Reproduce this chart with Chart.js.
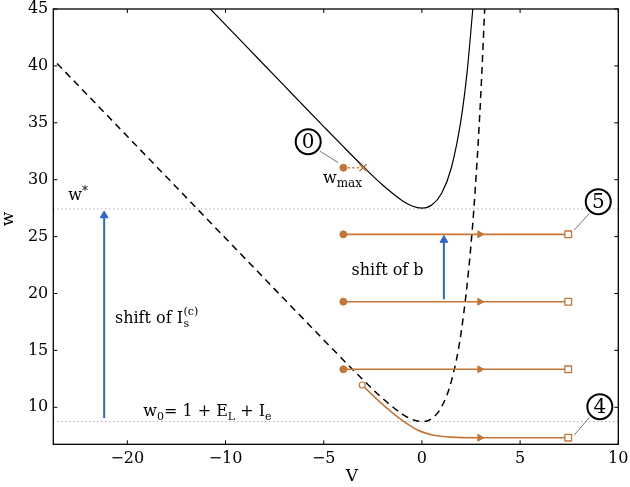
<!DOCTYPE html>
<html><head><meta charset="utf-8">
<script src="https://cdn.jsdelivr.net/npm/chart.js@4.4.1/dist/chart.umd.min.js"></script>
<style>html,body{margin:0;padding:0;background:#fff;}canvas{display:block;}</style>
</head><body>
<canvas id="c" width="630" height="487"></canvas>
<script>
// ---- axis ticks ----
const xTickValues = [-15, -10, -5, 0, 5, 10];
const xTickLabels = ['−20', '−10', '−5', '0', '5', '10'];
const yTickValues = [10, 15, 20, 25, 30, 35, 40, 45];

// ---- solid curve ----
const sepV = [-11, -9, -7, -5, -4, -3, -2, -1, -0.5, 0, 0.5, 1, 1.5, 2, 2.3, 2.6];
const sepW = [45.4, 41.82, 38.24, 34.67, 32.9, 31.17, 29.53, 28.16, 27.69, 27.5, 27.77, 28.79, 31.05, 35.36, 39.45, 45.17];

// ---- dashed curve ----
const nullV = [-19, -15, -10, -7, -5, -3, -2, -1, -0.5, 0, 0.5, 1, 1.5, 2, 2.5, 2.8, 3.0, 3.2];
const nullW = [40.97, 33.81, 24.86, 19.49, 15.92, 12.42, 10.78, 9.41, 8.94, 8.75, 9.02, 10.04, 12.3, 16.61, 24.29, 31.39, 37.54, 45.15];

// ---- reference levels ----
const wStar = 27.43;
const wZero = 8.75;

// ---- horizontal trajectories ----
const trajStartV = -4;
const trajEndV = 7.45;
const trajArrowV = 2.95;
const trajW = [25.2, 19.28, 13.34];

// ---- trajectory 4 ----
const traj4V = [-3.04, -2.5, -1.8, -1.0, -0.2, 0.6, 1.5, 3.0, 7.45];
const traj4W = [11.96, 11.05, 9.95, 8.85, 7.98, 7.55, 7.38, 7.33, 7.33];

// ---- w_max ----
const wMaxV = [-4, -3];
const wMaxW = 31.05;

// ---- blue arrows ----
const arrowIV = -16.18;
const arrowIW = [9.07, 26.85];
const arrowBV = 1.12;
const arrowBW = [19.5, 24.7];

const ORANGE = '#c57636';
const BLUE = '#2f66cc';
const FONT = 'DejaVu Serif';

const X_MIN = -18.77, X_MAX = 10.0, Y_MIN = 6.75, Y_MAX = 45;

const pts = (xs, ys) => xs.map((x, i) => ({x, y: ys[i]}));

const datasets = [];
datasets.push({ data: [{x: wMaxV[0], y: wMaxW}], pointStyle: 'circle', pointRadius: 3.5, backgroundColor: ORANGE, borderColor: ORANGE, showLine: false });
datasets.push({ data: [{x: wMaxV[1], y: wMaxW}], pointStyle: 'crossRot', pointRadius: 5, borderWidth: 1.5, borderColor: ORANGE, showLine: false });
datasets.push({ data: trajW.map(w => ({x: trajStartV, y: w})), pointStyle: 'circle', pointRadius: 3.5, backgroundColor: ORANGE, borderColor: ORANGE, showLine: false });
datasets.push({ data: trajW.concat([traj4W[traj4W.length-1]]).map(w => ({x: trajEndV, y: w})), pointStyle: 'rect', pointRadius: 4.7, borderWidth: 1.3, backgroundColor: '#fff', borderColor: ORANGE, showLine: false });
datasets.push({ data: trajW.concat([traj4W[traj4W.length-1]]).map(w => ({x: trajArrowV, y: w})), pointStyle: 'triangle', rotation: 90, pointRadius: 4, backgroundColor: ORANGE, borderColor: ORANGE, borderWidth: 1, showLine: false });
datasets.push({ data: [{x: traj4V[0], y: traj4W[0]}], pointStyle: 'circle', pointRadius: 3, borderWidth: 1.2, backgroundColor: '#fff', borderColor: ORANGE, showLine: false });
datasets.push({ data: pts([arrowIV, arrowIV], arrowIW), showLine: true, borderColor: BLUE, backgroundColor: BLUE, borderWidth: 2, pointStyle: 'triangle', pointRadius: [0, 4.5], pointBorderWidth: 1 });
datasets.push({ data: pts([arrowBV, arrowBV], arrowBW), showLine: true, borderColor: BLUE, backgroundColor: BLUE, borderWidth: 2, pointStyle: 'triangle', pointRadius: [0, 4.5], pointBorderWidth: 1 });
datasets.push({ data: pts(wMaxV, [wMaxW, wMaxW]), showLine: true, borderColor: ORANGE, borderWidth: 1.5, borderDash: [2, 2.5], pointRadius: 0 });
trajW.forEach(w => datasets.push({ data: pts([trajStartV, trajEndV], [w, w]), showLine: true, borderColor: ORANGE, borderWidth: 1.6, pointRadius: 0 }));
datasets.push({ data: pts(traj4V, traj4W), showLine: true, borderColor: ORANGE, borderWidth: 1.6, pointRadius: 0, cubicInterpolationMode: 'monotone' });
datasets.push({ data: pts(sepV, sepW), showLine: true, borderColor: '#000', borderWidth: 1.2, pointRadius: 0, cubicInterpolationMode: 'monotone' });
datasets.push({ data: pts(nullV, nullW), showLine: true, borderColor: '#000', borderWidth: 1.5, borderDash: [7, 5], pointRadius: 0, cubicInterpolationMode: 'monotone' });
[wStar, wZero].forEach(w => datasets.push({ data: pts([X_MIN, X_MAX], [w, w]), showLine: true, borderColor: '#8a8a8a', borderWidth: 1, borderDash: [1, 3], pointRadius: 0 }));

function rich(ctx, x, y, parts) {
  let cx = x;
  parts.forEach(p => {
    ctx.font = p.size + 'px "' + FONT + '"';
    ctx.fillText(p.t, cx, y + (p.dy || 0));
    cx += ctx.measureText(p.t).width + (p.gap || 0);
  });
}

const overlay = {
  id: 'overlay',
  afterDraw(chart) {
    const ctx = chart.ctx, a = chart.chartArea;
    const xs = chart.scales.x, ys = chart.scales.y;
    const X = v => xs.getPixelForValue(v), Y = v => ys.getPixelForValue(v);
    ctx.save();
    ctx.strokeStyle = '#000'; ctx.lineWidth = 1.3;
    ctx.strokeRect(a.left, a.top, a.right - a.left, a.bottom - a.top);
    ctx.lineWidth = 1;
    const tl = 4;
    xTickValues.forEach(v => {
      const px = X(v);
      ctx.beginPath(); ctx.moveTo(px, a.bottom); ctx.lineTo(px, a.bottom - tl); ctx.stroke();
      ctx.beginPath(); ctx.moveTo(px, a.top); ctx.lineTo(px, a.top + tl); ctx.stroke();
    });
    yTickValues.forEach(v => {
      const py = Y(v);
      ctx.beginPath(); ctx.moveTo(a.left, py); ctx.lineTo(a.left + tl, py); ctx.stroke();
      ctx.beginPath(); ctx.moveTo(a.right, py); ctx.lineTo(a.right - tl, py); ctx.stroke();
    });
    ctx.fillStyle = '#000';
    ctx.font = '17px "' + FONT + '"';
    ctx.textAlign = 'center'; ctx.textBaseline = 'alphabetic';
    ctx.fillText('V', 352, 481);
    ctx.save(); ctx.translate(13, 219); ctx.rotate(-Math.PI / 2); ctx.fillText('w', 0, 0); ctx.restore();
    ctx.textAlign = 'left';
    rich(ctx, X(-18.01), Y(28.22), [{t: 'w', size: 16}, {t: '*', size: 12, dy: -5}]);
    rich(ctx, X(-5.04), Y(29.75), [{t: 'w', size: 16}, {t: 'max', size: 12, dy: 4}]);
    rich(ctx, X(-14.19), Y(9.2), [{t: 'w', size: 16}, {t: '0', size: 11, dy: 4}, {t: '= 1 + E', size: 16}, {t: 'L', size: 11, dy: 4}, {t: ' + I', size: 16}, {t: 'e', size: 11, dy: 4}]);
    rich(ctx, X(-15.63), Y(17.38), [{t: 'shift of I', size: 16}]);
    ctx.font = '16px "' + FONT + '"';
    const sx = X(-15.63) + ctx.measureText('shift of I').width;
    ctx.font = '11px "' + FONT + '"';
    ctx.fillText('s', sx + 0.5, Y(17.38) + 4);
    ctx.fillText('(c)', sx + 0.5, Y(17.38) - 8);
    rich(ctx, X(-3.58), Y(21.63), [{t: 'shift of b', size: 16}]);
    ctx.strokeStyle = '#777'; ctx.lineWidth = 1;
    [[-5.19, 32.5, -4.26, 31.5], [8.52, 27.03, 7.75, 25.56], [8.52, 9.1, 7.75, 7.55]].forEach(c => {
      ctx.beginPath(); ctx.moveTo(X(c[0]), Y(c[1])); ctx.lineTo(X(c[2]), Y(c[3])); ctx.stroke();
    });
    [[-5.79, 33.34, '0'], [8.98, 28.07, '5'], [9.06, 10.06, '4']].forEach(c => {
      const px = X(c[0]), py = Y(c[1]);
      ctx.fillStyle = '#fff'; ctx.strokeStyle = '#000'; ctx.lineWidth = 2;
      ctx.beginPath(); ctx.arc(px, py, 12.5, 0, Math.PI * 2); ctx.fill(); ctx.stroke();
      ctx.fillStyle = '#000'; ctx.font = '20px "' + FONT + '"';
      ctx.textAlign = 'center'; ctx.textBaseline = 'middle';
      ctx.fillText(c[2], px, py + 1);
    });
    ctx.restore();
  }
};

new Chart(document.getElementById('c'), {
  type: 'scatter',
  data: { datasets },
  options: {
    responsive: false,
    animation: false,
    devicePixelRatio: 1,
    layout: { padding: { top: 9, right: 11.7, left: 0, bottom: 0 } },
    plugins: { legend: { display: false }, tooltip: { enabled: false } },
    scales: {
      x: {
        type: 'linear', min: X_MIN, max: X_MAX,
        grid: { display: false, drawTicks: false },
        border: { display: false },
        afterFit: s => { s.height = 42.7; s.paddingLeft = 0; s.paddingRight = 0; },
        afterBuildTicks: s => { s.ticks = xTickValues.map(v => ({value: v})); },
        ticks: { color: '#000', padding: 5, font: { family: FONT, size: 16 }, autoSkip: false, maxRotation: 0,
          callback: v => xTickLabels[xTickValues.indexOf(v)] }
      },
      y: {
        type: 'linear', min: Y_MIN, max: Y_MAX,
        grid: { display: false, drawTicks: false },
        border: { display: false },
        afterFit: s => { s.width = 53.3; s.paddingTop = 0; s.paddingBottom = 0; },
        afterBuildTicks: s => { s.ticks = yTickValues.map(v => ({value: v})); },
        ticks: { color: '#000', padding: 5, font: { family: FONT, size: 16 }, autoSkip: false }
      }
    }
  },
  plugins: [overlay]
});
</script>
</body></html>
